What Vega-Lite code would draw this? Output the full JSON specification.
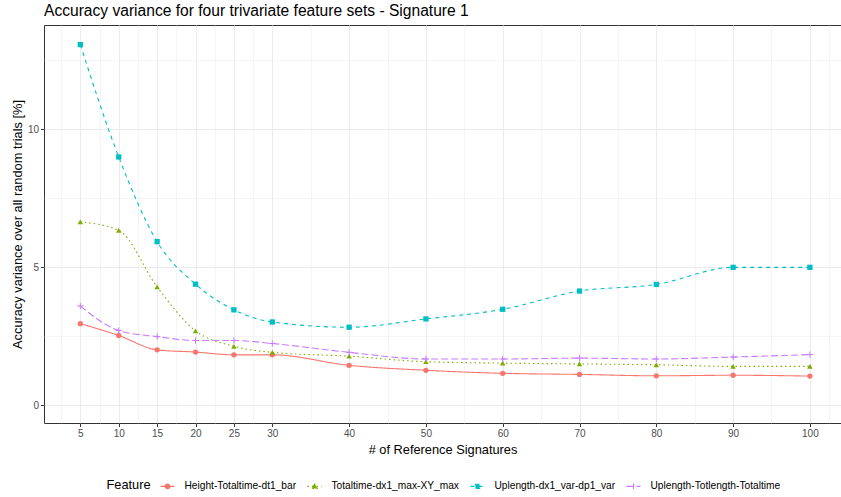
{
  "$schema": "https://vega.github.io/schema/vega-lite/v6.json",
  "width": 797,
  "height": 398,
  "autosize": {"type": "none"},
  "padding": {"left": 44, "top": 25, "right": 0, "bottom": 74},
  "background": "white",
  "config": {
    "font": "Liberation Sans",
    "view": {"stroke": "#333333", "strokeWidth": 1},
    "axis": {"domain": false, "tickColor": "#333333", "tickSize": 3.5, "labelColor": "#4D4D4D", "labelFontSize": 10, "labelPadding": 2, "titleFontWeight": "normal", "titleFontSize": 12.8, "titleColor": "black", "gridColor": "#EBEBEB"}
  },
  "title": {"text": "Accuracy variance for four trivariate feature sets - Signature 1", "anchor": "start", "frame": "group", "fontSize": 15.6, "fontWeight": "normal", "offset": 5, "color": "black"},
  "data": {"values": [
    {"n": 5, "Feature": "Height-Totaltime-dt1_bar", "v": 2.96},
    {"n": 10, "Feature": "Height-Totaltime-dt1_bar", "v": 2.53},
    {"n": 15, "Feature": "Height-Totaltime-dt1_bar", "v": 2.01},
    {"n": 20, "Feature": "Height-Totaltime-dt1_bar", "v": 1.93},
    {"n": 25, "Feature": "Height-Totaltime-dt1_bar", "v": 1.83},
    {"n": 30, "Feature": "Height-Totaltime-dt1_bar", "v": 1.83},
    {"n": 40, "Feature": "Height-Totaltime-dt1_bar", "v": 1.45},
    {"n": 50, "Feature": "Height-Totaltime-dt1_bar", "v": 1.27},
    {"n": 60, "Feature": "Height-Totaltime-dt1_bar", "v": 1.16},
    {"n": 70, "Feature": "Height-Totaltime-dt1_bar", "v": 1.12},
    {"n": 80, "Feature": "Height-Totaltime-dt1_bar", "v": 1.07},
    {"n": 90, "Feature": "Height-Totaltime-dt1_bar", "v": 1.09},
    {"n": 100, "Feature": "Height-Totaltime-dt1_bar", "v": 1.06},
    {"n": 5, "Feature": "Totaltime-dx1_max-XY_max", "v": 6.65},
    {"n": 10, "Feature": "Totaltime-dx1_max-XY_max", "v": 6.34},
    {"n": 15, "Feature": "Totaltime-dx1_max-XY_max", "v": 4.29},
    {"n": 20, "Feature": "Totaltime-dx1_max-XY_max", "v": 2.7},
    {"n": 25, "Feature": "Totaltime-dx1_max-XY_max", "v": 2.14},
    {"n": 30, "Feature": "Totaltime-dx1_max-XY_max", "v": 1.92},
    {"n": 40, "Feature": "Totaltime-dx1_max-XY_max", "v": 1.78},
    {"n": 50, "Feature": "Totaltime-dx1_max-XY_max", "v": 1.58},
    {"n": 60, "Feature": "Totaltime-dx1_max-XY_max", "v": 1.53},
    {"n": 70, "Feature": "Totaltime-dx1_max-XY_max", "v": 1.5},
    {"n": 80, "Feature": "Totaltime-dx1_max-XY_max", "v": 1.47},
    {"n": 90, "Feature": "Totaltime-dx1_max-XY_max", "v": 1.41},
    {"n": 100, "Feature": "Totaltime-dx1_max-XY_max", "v": 1.41},
    {"n": 5, "Feature": "Uplength-dx1_var-dp1_var", "v": 13.07},
    {"n": 10, "Feature": "Uplength-dx1_var-dp1_var", "v": 9.0},
    {"n": 15, "Feature": "Uplength-dx1_var-dp1_var", "v": 5.93},
    {"n": 20, "Feature": "Uplength-dx1_var-dp1_var", "v": 4.39},
    {"n": 25, "Feature": "Uplength-dx1_var-dp1_var", "v": 3.46},
    {"n": 30, "Feature": "Uplength-dx1_var-dp1_var", "v": 3.02},
    {"n": 40, "Feature": "Uplength-dx1_var-dp1_var", "v": 2.83},
    {"n": 50, "Feature": "Uplength-dx1_var-dp1_var", "v": 3.13},
    {"n": 60, "Feature": "Uplength-dx1_var-dp1_var", "v": 3.48},
    {"n": 70, "Feature": "Uplength-dx1_var-dp1_var", "v": 4.14},
    {"n": 80, "Feature": "Uplength-dx1_var-dp1_var", "v": 4.38},
    {"n": 90, "Feature": "Uplength-dx1_var-dp1_var", "v": 5.0},
    {"n": 100, "Feature": "Uplength-dx1_var-dp1_var", "v": 5.0},
    {"n": 5, "Feature": "Uplength-Totlength-Totaltime", "v": 3.6},
    {"n": 10, "Feature": "Uplength-Totlength-Totaltime", "v": 2.71},
    {"n": 15, "Feature": "Uplength-Totlength-Totaltime", "v": 2.49},
    {"n": 20, "Feature": "Uplength-Totlength-Totaltime", "v": 2.35},
    {"n": 25, "Feature": "Uplength-Totlength-Totaltime", "v": 2.35},
    {"n": 30, "Feature": "Uplength-Totlength-Totaltime", "v": 2.24},
    {"n": 40, "Feature": "Uplength-Totlength-Totaltime", "v": 1.92},
    {"n": 50, "Feature": "Uplength-Totlength-Totaltime", "v": 1.68},
    {"n": 60, "Feature": "Uplength-Totlength-Totaltime", "v": 1.68},
    {"n": 70, "Feature": "Uplength-Totlength-Totaltime", "v": 1.71},
    {"n": 80, "Feature": "Uplength-Totlength-Totaltime", "v": 1.68},
    {"n": 90, "Feature": "Uplength-Totlength-Totaltime", "v": 1.75},
    {"n": 100, "Feature": "Uplength-Totlength-Totaltime", "v": 1.84}
  ]},
  "encoding": {
    "x": {"field": "n", "type": "quantitative", "scale": {"domain": [0.27, 104.05], "nice": false, "zero": false},
      "axis": {"title": "# of Reference Signatures", "titlePadding": 5,
        "values": [2.5, 5, 7.5, 10, 12.5, 15, 17.5, 20, 22.5, 25, 27.5, 30, 35, 40, 45, 50, 55, 60, 65, 70, 75, 80, 85, 90, 95, 100, 102.5],
        "labelExpr": "indexof([5,10,15,20,25,30,40,50,60,70,80,90,100], datum.value) >= 0 ? datum.label : ''",
        "tickOpacity": {"condition": {"test": "indexof([5,10,15,20,25,30,40,50,60,70,80,90,100], datum.value) >= 0", "value": 1}, "value": 0},
        "gridWidth": {"condition": {"test": "indexof([5,10,15,20,25,30,40,50,60,70,80,90,100], datum.value) >= 0", "value": 1}, "value": 0.5}
      }},
    "y": {"field": "v", "type": "quantitative", "scale": {"domain": [-0.64, 13.78], "nice": false, "zero": false},
      "axis": {"title": "Accuracy variance over all random trials [%]", "titlePadding": 3,
        "values": [0, 2.5, 5, 7.5, 10, 12.5],
        "labelExpr": "datum.value % 5 === 0 ? datum.label : ''",
        "tickOpacity": {"condition": {"test": "datum.value % 5 === 0", "value": 1}, "value": 0},
        "gridWidth": {"condition": {"test": "datum.value % 5 === 0", "value": 1}, "value": 0.5}
      }},
    "color": {"field": "Feature", "type": "nominal",
      "scale": {"domain": ["Height-Totaltime-dt1_bar", "Totaltime-dx1_max-XY_max", "Uplength-dx1_var-dp1_var", "Uplength-Totlength-Totaltime"], "range": ["#F8766D", "#7CAE00", "#00BFC4", "#C77CFF"]},
      "legend": {"orient": "none", "legendX": 62.5, "legendY": 453, "direction": "horizontal", "titleOrient": "left", "titleFontSize": 12.8, "titleFontWeight": "normal", "titleColor": "black", "titlePadding": 8, "labelFontSize": 10.2, "labelColor": "black", "symbolSize": 196, "labelOffset": 9, "columnPadding": 8, "symbolStrokeWidth": 1.1, "symbolOpacity": 1,
        "encode": {"symbols": {"update": {
          "shape": {"signal": "datum.value === 'Height-Totaltime-dt1_bar' ? 'M-1,0H1M-0.34,0A0.34,0.34 0 1,0 0.34,0A0.34,0.34 0 1,0 -0.34,0Z' : datum.value === 'Totaltime-dx1_max-XY_max' ? 'M-1,0H1M0,-0.4L0.4,0.3L-0.4,0.3Z' : datum.value === 'Uplength-dx1_var-dp1_var' ? 'M-1,0H1M-0.3,-0.3H0.3V0.3H-0.3Z' : 'M-1,0H1M0,-0.42V0.42'"},
          "strokeDash": {"signal": "datum.value === 'Height-Totaltime-dt1_bar' ? [1,0] : datum.value === 'Totaltime-dx1_max-XY_max' ? [1.5,2.5] : datum.value === 'Uplength-dx1_var-dp1_var' ? [3,3] : [6,3]"},
          "fill": {"scale": "color", "field": "value"},
          "stroke": {"scale": "color", "field": "value"},
          "strokeWidth": {"value": 1.1}
        }}}
      }
    }
  },
  "layer": [
    {
      "mark": {"type": "line", "interpolate": "monotone", "strokeWidth": 1.1},
      "encoding": {
        "strokeDash": {"field": "Feature", "type": "nominal", "scale": {"domain": ["Height-Totaltime-dt1_bar", "Totaltime-dx1_max-XY_max", "Uplength-dx1_var-dp1_var", "Uplength-Totlength-Totaltime"], "range": [[1, 0], [1.5, 3], [4, 4], [7, 3]]}, "legend": null}
      }
    },
    {
      "transform": [{"filter": "datum.Feature === 'Height-Totaltime-dt1_bar'"}],
      "mark": {"type": "point", "shape": "circle", "filled": true, "opacity": 1, "size": 28}
    },
    {
      "transform": [{"filter": "datum.Feature === 'Totaltime-dx1_max-XY_max'"}],
      "mark": {"type": "point", "shape": "triangle-up", "filled": true, "opacity": 1, "size": 30}
    },
    {
      "transform": [{"filter": "datum.Feature === 'Uplength-dx1_var-dp1_var'"}],
      "mark": {"type": "point", "shape": "square", "filled": true, "opacity": 1, "size": 28}
    },
    {
      "transform": [{"filter": "datum.Feature === 'Uplength-Totlength-Totaltime'"}],
      "mark": {"type": "point", "shape": "M-1,0H1M0,-1V1", "filled": false, "opacity": 1, "size": 40, "strokeWidth": 1}
    }
  ]
}
